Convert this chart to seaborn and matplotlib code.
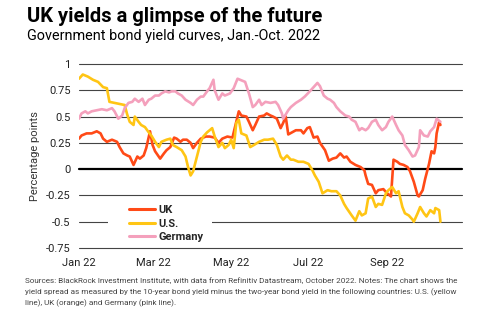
import numpy as np
import pandas as pd
import matplotlib
matplotlib.use("Agg")
import matplotlib.pyplot as plt
import matplotlib.dates as mdates
from matplotlib.patches import Rectangle
from matplotlib.lines import Line2D
import seaborn as sns

# ---------------- data (days since 2022-01-01, spread in percentage points) -------------
us_days = [0, 3, 7, 11, 15, 19, 22, 24, 28, 32, 36, 38, 40, 43, 44, 47, 49, 52, 55, 57,
           60, 63, 65, 69, 72, 74, 77, 81, 84, 86, 88, 90, 93, 96, 98, 101, 105, 107, 110,
           113, 115, 118, 120, 122, 124, 126, 128, 132, 135, 138, 142, 146, 149, 153, 156,
           159, 161, 164, 167, 169, 173, 177, 181, 184, 186, 189, 192, 196, 199, 203, 206,
           209, 211, 215, 218, 221, 223, 226, 228, 231, 234, 236, 239, 242, 244, 247, 250,
           252, 255, 257, 260, 263, 264, 267, 269, 272, 274, 277, 280, 281, 284, 285]
us_vals = [0.86, 0.90, 0.88, 0.85, 0.83, 0.78, 0.77, 0.64, 0.63, 0.62, 0.61, 0.52, 0.45,
           0.42, 0.50, 0.45, 0.42, 0.40, 0.35, 0.32, 0.26, 0.21, 0.26, 0.28, 0.29, 0.23,
           0.21, 0.18, 0.12, 0.02, -0.06, -0.02, 0.12, 0.26, 0.31, 0.35, 0.39, 0.31, 0.21,
           0.25, 0.20, 0.23, 0.28, 0.20, 0.44, 0.47, 0.34, 0.32, 0.21, 0.23, 0.26, 0.28,
           0.28, 0.29, 0.23, 0.12, 0.09, 0.13, 0.09, 0.09, 0.07, 0.07, 0.05, -0.01, -0.06,
           -0.12, -0.23, -0.20, -0.21, -0.21, -0.25, -0.33, -0.37, -0.44, -0.49, -0.40,
           -0.44, -0.42, -0.28, -0.26, -0.36, -0.33, -0.34, -0.23, -0.20, -0.17, -0.23,
           -0.21, -0.36, -0.42, -0.44, -0.48, -0.50, -0.42, -0.36, -0.42, -0.45, -0.39,
           -0.42, -0.37, -0.39, -0.50]

uk_days = [0, 2, 6, 10, 14, 17, 19, 22, 26, 30, 32, 35, 38, 40, 43, 46, 48, 51, 53, 56,
           58, 60, 64, 67, 69, 72, 75, 77, 80, 82, 85, 88, 90, 93, 96, 100, 103, 107, 110,
           113, 117, 121, 123, 126, 128, 132, 134, 137, 139, 142, 146, 148, 151, 153, 156,
           159, 161, 163, 165, 168, 171, 175, 177, 180, 182, 185, 188, 190, 194, 197, 200,
           203, 206, 209, 211, 214, 218, 222, 225, 226, 228, 231, 234, 236, 240, 243, 246,
           248, 251, 253, 256, 259, 261, 264, 267, 268, 271, 273, 276, 278, 280, 281, 282,
           284, 285]
uk_vals = [0.29, 0.32, 0.34, 0.34, 0.36, 0.34, 0.29, 0.26, 0.28, 0.26, 0.21, 0.15, 0.13,
           0.12, 0.04, 0.12, 0.10, 0.13, 0.20, 0.36, 0.23, 0.17, 0.10, 0.15, 0.18, 0.21,
           0.30, 0.29, 0.26, 0.28, 0.28, 0.25, 0.20, 0.25, 0.29, 0.31, 0.31, 0.30, 0.25,
           0.29, 0.31, 0.30, 0.40, 0.55, 0.51, 0.50, 0.45, 0.37, 0.42, 0.50, 0.51, 0.53,
           0.51, 0.50, 0.48, 0.39, 0.44, 0.50, 0.33, 0.35, 0.37, 0.37, 0.34, 0.39, 0.40,
           0.30, 0.31, 0.25, 0.18, 0.08, 0.10, 0.11, 0.15, 0.11, 0.12, 0.07, 0.04, 0.02,
           -0.01, -0.06, -0.14, -0.15, -0.23, -0.20, -0.19, -0.23, -0.26, 0.09, 0.07, 0.05,
           0.04, 0.02, -0.02, -0.12, -0.25, -0.26, -0.20, -0.09, 0.05, 0.17, 0.15, 0.21,
           0.34, 0.45, 0.42]

de_days = [0, 2, 5, 7, 10, 14, 18, 22, 26, 28, 31, 34, 36, 39, 42, 44, 47, 50, 52, 55,
           57, 60, 63, 65, 68, 71, 73, 76, 78, 81, 84, 88, 90, 93, 96, 98, 101, 103, 106,
           107, 110, 113, 115, 119, 122, 125, 127, 131, 134, 137, 139, 142, 144, 147, 151,
           155, 157, 160, 161, 165, 167, 171, 175, 178, 182, 185, 188, 190, 193, 196, 198,
           201, 203, 206, 210, 213, 215, 218, 221, 223, 226, 228, 231, 234, 236, 239, 242,
           244, 247, 250, 252, 255, 257, 260, 263, 265, 268, 269, 272, 275, 277, 280, 282,
           285]
de_vals = [0.48, 0.53, 0.55, 0.53, 0.55, 0.56, 0.57, 0.56, 0.58, 0.55, 0.48, 0.51, 0.58,
           0.63, 0.64, 0.67, 0.64, 0.67, 0.61, 0.66, 0.67, 0.70, 0.70, 0.72, 0.74, 0.73,
           0.74, 0.74, 0.72, 0.70, 0.66, 0.63, 0.61, 0.66, 0.69, 0.69, 0.74, 0.77, 0.85,
           0.75, 0.66, 0.72, 0.70, 0.72, 0.77, 0.86, 0.85, 0.83, 0.72, 0.59, 0.61, 0.66,
           0.61, 0.64, 0.63, 0.64, 0.61, 0.53, 0.48, 0.56, 0.59, 0.63, 0.66, 0.69, 0.74,
           0.78, 0.82, 0.79, 0.70, 0.67, 0.66, 0.63, 0.59, 0.55, 0.51, 0.50, 0.47, 0.45,
           0.37, 0.39, 0.37, 0.39, 0.45, 0.47, 0.42, 0.37, 0.40, 0.45, 0.50, 0.42, 0.37,
           0.32, 0.23, 0.18, 0.12, 0.13, 0.21, 0.37, 0.32, 0.31, 0.36, 0.40, 0.48, 0.45]

series_names = ["UK", "U.S.", "Germany"]
series_colors = ["#FF4A17", "#FFC514", "#F4A0BC"]
y_ticks = [1, 0.75, 0.5, 0.25, 0, -0.25, -0.5, -0.75]
y_tick_labels = ["1", "0.75", "0.5", "0.25", "0", "-0.25", "-0.5", "-0.75"]

title = "UK yields a glimpse of the future"
subtitle = "Government bond yield curves, Jan.-Oct. 2022"
ylabel = "Percentage points"
footnote = ("Sources: BlackRock Investment Institute, with data from Refinitiv Datastream, October 2022. Notes: The chart shows the\n"
            "yield spread as measured by the 10-year bond yield minus the two-year bond yield in the following countries: U.S. (yellow\n"
            "line), UK (orange) and Germany (pink line).")

# ---------------- build long frame ----------------
start = pd.Timestamp("2022-01-01")
frames = []
for name, days, vals in [("UK", uk_days, uk_vals), ("U.S.", us_days, us_vals),
                         ("Germany", de_days, de_vals)]:
    frames.append(pd.DataFrame({"date": start + pd.to_timedelta(days, unit="D"),
                                "value": vals, "country": name}))
df = pd.concat(frames, ignore_index=True)

# ---------------- plot ----------------
sns.set_theme(style="white")
plt.rcParams["font.family"] = ["Roboto", "DejaVu Sans"]

W, H = 498, 326
fig = plt.figure(figsize=(W / 100, H / 100), dpi=100)
ax = fig.add_axes([79 / W, 1 - 248 / H, (462 - 79) / W, (248 - 64) / H])

for t in y_ticks:
    if t == 0:
        ax.axhline(t, color="black", lw=1.6, zorder=1, clip_on=False)
    else:
        ax.axhline(t, color="#444444", lw=0.8, zorder=1, clip_on=False)

sns.lineplot(data=df, x="date", y="value", hue="country", hue_order=series_names,
             palette=dict(zip(series_names, series_colors)), linewidth=1.9,
             ax=ax, legend=False, zorder=3, estimator=None, sort=False)

# legend background box
ax.add_patch(Rectangle((0.0757, 0.011), 0.2715, 0.255, transform=ax.transAxes,
                       facecolor="white", edgecolor="none", zorder=2))
handles = [Line2D([0], [0], color=c, lw=2.2) for c in series_colors]
leg = ax.legend(handles, series_names, loc="center left",
                bbox_to_anchor=(0.115, 0.133), frameon=False,
                handlelength=2.4, handletextpad=0.3, labelspacing=0.32,
                borderpad=0, prop={"weight": "bold", "size": 8})
leg.set_zorder(4)

ax.set_ylim(-0.75, 1.0)
ax.set_xlim(pd.Timestamp("2022-01-01"), pd.Timestamp("2022-10-30"))
ax.set_yticks(y_ticks)
ax.set_yticklabels(y_tick_labels)
ax.xaxis.set_major_locator(mdates.MonthLocator(bymonth=[1, 3, 5, 7, 9]))
ax.xaxis.set_major_formatter(mdates.DateFormatter("%b %y"))
ax.tick_params(axis="both", length=0, labelsize=8, colors="#222222", pad=6)
ax.tick_params(axis="x", pad=7)
for s in ax.spines.values():
    s.set_visible(False)
ax.set_xlabel("")
ax.set_ylabel(ylabel, fontsize=8, color="#333333", labelpad=4)
ax.grid(False)

fig.text(27 / W, 1 - 16 / H, title, fontsize=14.5, fontweight="bold",
         va="center", ha="left", color="black")
fig.text(27 / W, 1 - 36 / H, subtitle, fontsize=10.4, va="center", ha="left",
         color="black")
fig.text(25 / W, 1 - 278 / H, footnote, fontsize=5.85, va="top", ha="left",
         color="#444444", linespacing=1.6)

fig.savefig("out.png", dpi=100)
